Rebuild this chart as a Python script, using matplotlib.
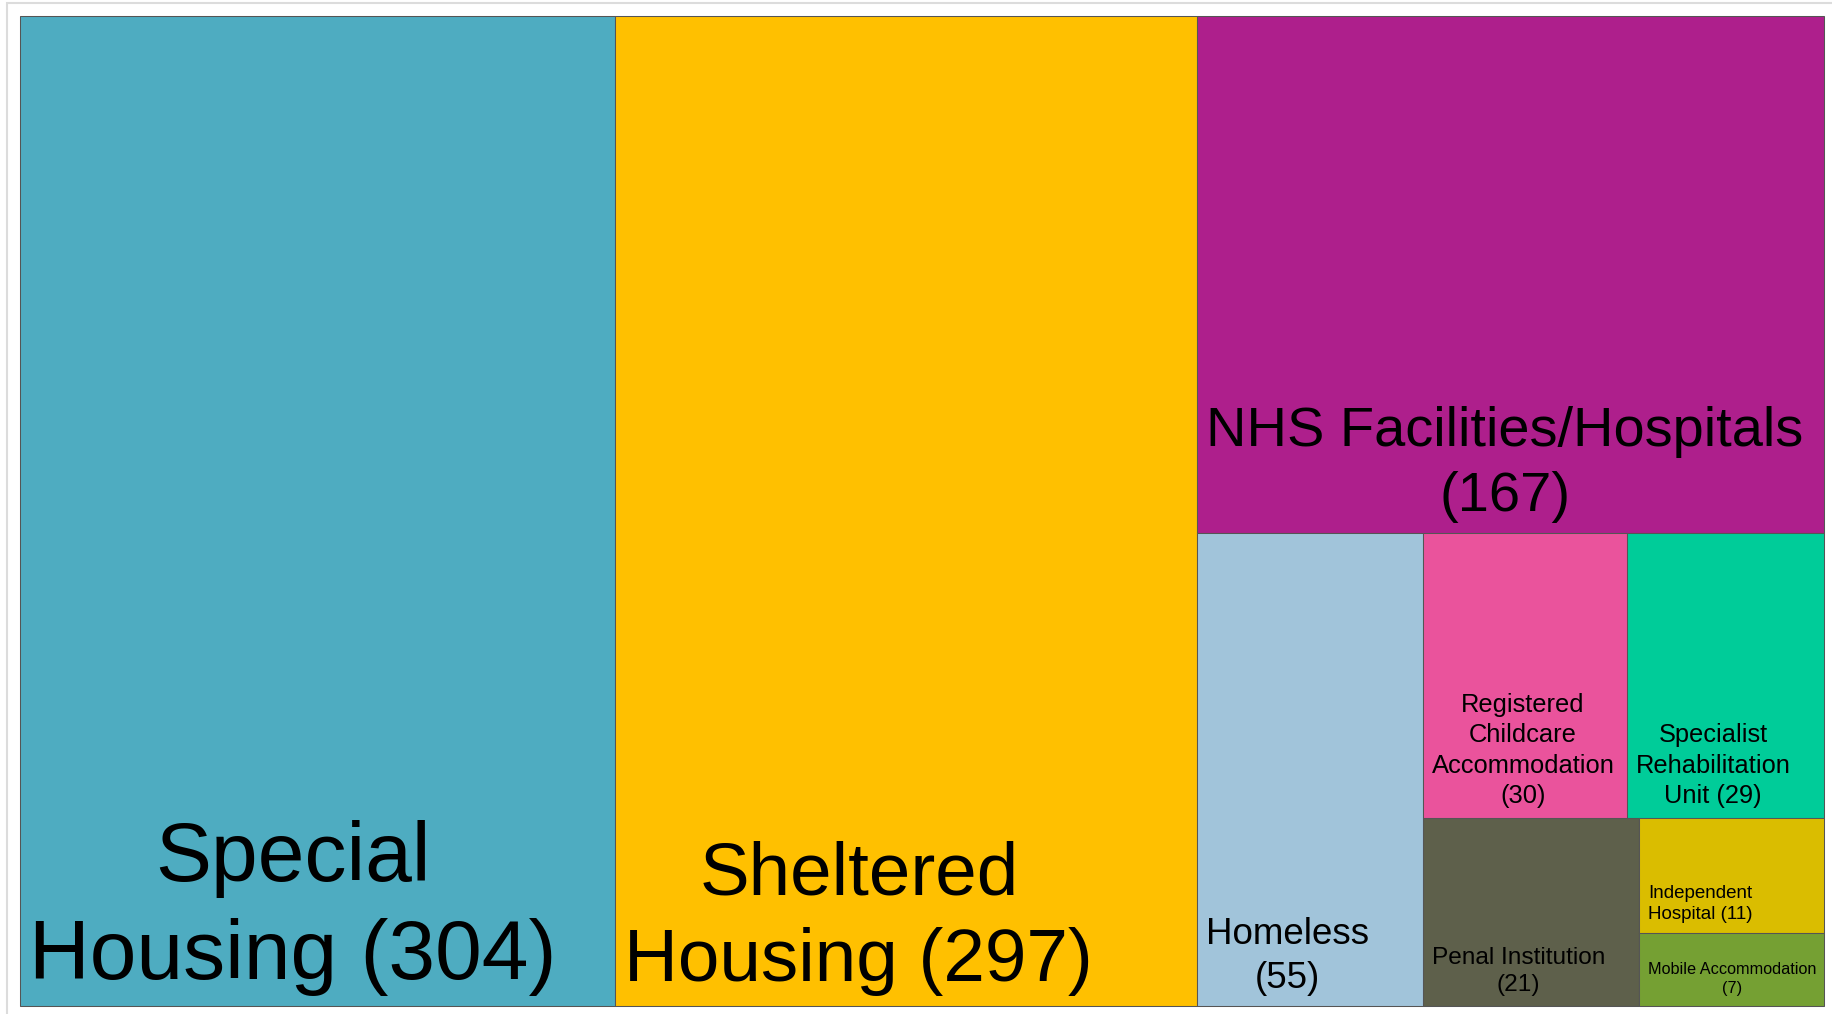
import matplotlib.pyplot as plt
from matplotlib.patches import Rectangle

# data
categories = ["Special Housing", "Sheltered Housing", "NHS Facilities/Hospitals",
              "Homeless", "Registered Childcare Accommodation",
              "Specialist Rehabilitation Unit", "Penal Institution",
              "Independent Hospital", "Mobile Accommodation"]
counts = [304, 297, 167, 55, 30, 29, 21, 11, 7]

# styling
colors = ["#4EACC1", "#FFC000", "#AE1F8C", "#A1C4DA", "#EA539C",
          "#00CC99", "#5E604B", "#DABD00", "#75A033"]
font_sizes = [60.5, 53.7, 40.3, 26.5, 18.4, 18.3, 17.6, 13.5, 11.7]
# where the label wraps (word indices that start a new line) and how the count joins
breaks = [[1], [1], [], [], [1, 2], [1, 2], [], [1], []]
count_sep = [" ", " ", "\n", "\n", "\n", " ", "\n", " ", "\n"]

W, H = 1832, 1014
MAP_X0, MAP_Y0, MAP_X1, MAP_Y1 = 20, 16, 1824, 1006
PAD_X, PAD_Y = 9, 10
FONT = "Liberation Sans"


def worst(row, side):
    """Worst aspect ratio of a row of areas laid along a side"""
    s = sum(row)
    return max(max(side ** 2 * r / s ** 2, s ** 2 / (side ** 2 * r)) for r in row)


def squarify(values, x, y, w, h, slack=0.99):
    """Squarified treemap, y grows downwards"""
    total = float(sum(values))
    areas = [v * w * h / total for v in values]
    rects = []
    while areas:
        side = min(w, h)
        row = [areas.pop(0)]
        while areas and worst(row + [areas[0]], side) < worst(row, side) * slack:
            row.append(areas.pop(0))
        s = sum(row)
        if w >= h:
            cw = s / h
            yy = y
            for r in row:
                rects.append((x, yy, cw, r / cw))
                yy += r / cw
            x += cw
            w -= cw
        else:
            rh = s / w
            xx = x
            for r in row:
                rects.append((xx, y, r / rh, rh))
                xx += r / rh
            y += rh
            h -= rh
    return rects


def make_label(name, n, brk, sep):
    words = name.split()
    lines, cur = [], []
    for i, wd in enumerate(words):
        if i in brk:
            lines.append(" ".join(cur))
            cur = []
        cur.append(wd)
    lines.append(" ".join(cur))
    return "\n".join(lines) + sep + "({})".format(n)


fig = plt.figure(figsize=(W / 100, H / 100), dpi=100)
ax = fig.add_axes([0, 0, 1, 1])
ax.set_xlim(0, W)
ax.set_ylim(H, 0)
ax.axis("off")

# light outer frame
ax.plot([7, 7, W], [H, 3, 3], color="#dcdcdc", lw=1.5, solid_joinstyle="miter")

rects = squarify(counts, MAP_X0, MAP_Y0, MAP_X1 - MAP_X0, MAP_Y1 - MAP_Y0)
for i, (rx, ry, rw, rh) in enumerate(rects):
    ax.add_patch(Rectangle((rx, ry), rw, rh, facecolor=colors[i],
                           edgecolor="#555555", linewidth=0.75))
    label = make_label(categories[i], counts[i], breaks[i], count_sep[i])
    ax.text(rx + PAD_X, ry + rh - PAD_Y, label, fontsize=font_sizes[i],
            family=FONT, color="black", ha="left", va="bottom",
            multialignment="center", linespacing=1.32)

fig.savefig("out.png", dpi=100)
